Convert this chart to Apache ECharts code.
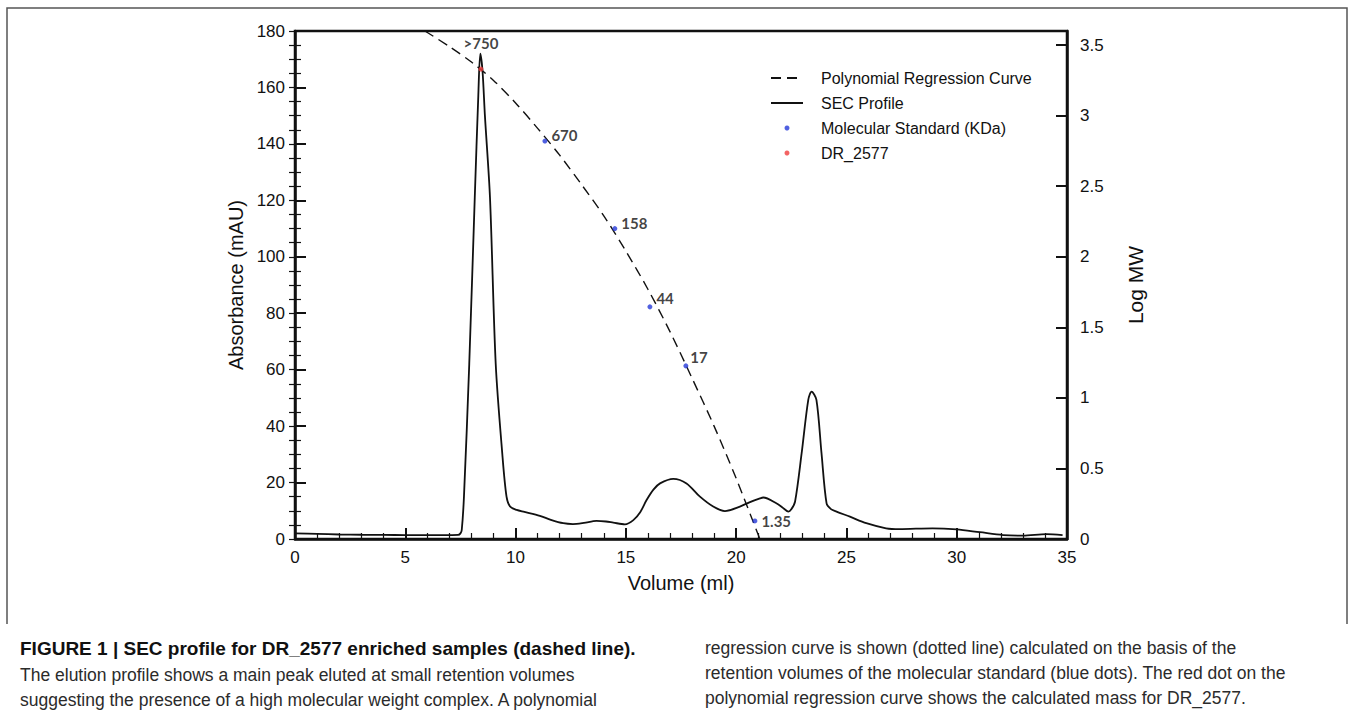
<!DOCTYPE html>
<html>
<head>
<meta charset="utf-8">
<title>SEC profile DR_2577</title>
<script src="https://cdn.jsdelivr.net/npm/echarts/dist/echarts.min.js"></script>
<style>
  html, body { margin: 0; padding: 0; background: #fff; }
  #chart { width: 1355px; height: 710px; }
</style>
</head>
<body>
<div id="chart"></div>
<script>
// SEC profile (absorbance, left axis)
const secVolume = [0, 1, 2, 3, 4, 5, 6, 7, 7.4, 7.5, 7.56, 7.66, 7.9, 8.15, 8.31, 8.4, 8.5, 8.61, 8.84, 9.1, 9.4, 9.59, 9.75, 10.05, 10.4, 11.1, 11.6, 12.16, 12.6, 13.1, 13.67, 14.1, 14.43, 14.96, 15.34, 15.65, 15.94, 16.25, 16.55, 17.15, 17.75, 18.36, 18.96, 19.49, 20.17, 20.6, 21.08, 21.23, 21.84, 22.1, 22.37, 22.5, 22.67, 22.97, 23.27, 23.42, 23.64, 23.87, 24.1, 24.3, 24.55, 25.16, 25.9, 26.8, 27.4, 28.9, 30.0, 31.05, 32.1, 33.0, 34.07, 34.8];
const secAbsorbance = [2.0, 1.8, 1.6, 1.5, 1.45, 1.4, 1.4, 1.4, 1.45, 2.0, 3.2, 15, 62, 121, 157, 172, 166, 150, 121, 62, 30, 15, 11.5, 10.3, 9.6, 8.2, 6.8, 5.6, 5.3, 5.7, 6.4, 6.2, 5.8, 5.2, 6.7, 9.5, 13.8, 17.5, 19.7, 21.3, 19.7, 15, 11.5, 9.9, 11.5, 13, 14.4, 14.7, 12.6, 11.2, 9.7, 10.5, 13.2, 30.4, 49.3, 52.2, 49.3, 30.4, 12.6, 10.6, 9.7, 7.9, 5.6, 3.8, 3.5, 3.8, 3.4, 2.4, 1.4, 1.2, 1.7, 1.4];

// polynomial regression curve (log MW, right axis)
const regVolume = [5.89, 7, 8, 9, 10, 11, 12, 13, 14, 15, 16, 17, 18, 19, 20, 21, 21.08];
const regLogMW = [3.6, 3.49, 3.38, 3.25, 3.09, 2.91, 2.72, 2.51, 2.29, 2.04, 1.77, 1.47, 1.14, 0.8, 0.43, 0.03, 0.0];

// molecular standards
const stdVolume = [11.33, 14.5, 16.09, 17.72, 20.85];
const stdLogMW = [2.82, 2.2, 1.645, 1.227, 0.128];
const stdLabels = ["670", "158", "44", "17", "1.35"];

// DR_2577
const sampleVolume = [8.43];
const sampleLogMW = [3.33];
const sampleLabels = [">750"];

const xTicks = { min: 0, max: 35, interval: 5 };
const leftTicks = { min: 0, max: 180, interval: 20 };
const rightTicks = { min: 0, max: 3.6, interval: 0.5, minor: 0.1 };

const captionTitle = "FIGURE 1 | SEC profile for DR_2577 enriched samples (dashed line).";
const captionLeft = [
    "The elution profile shows a main peak eluted at small retention volumes",
    "suggesting the presence of a high molecular weight complex. A polynomial"
];
const captionRight = [
    "regression curve is shown (dotted line) calculated on the basis of the",
    "retention volumes of the molecular standard (blue dots). The red dot on the",
    "polynomial regression curve shows the calculated mass for DR_2577."
];

const stdLabelOffsets = [[0, -6], [0, -6], [0, -9], [-2, -9], [0, 0]];

const pairs = (xs, ys) => xs.map((x, i) => [x, ys[i]]);

const fontMain = "'Liberation Sans', Arial, Helvetica, sans-serif";
const fontPoint = "Lato, 'Open Sans', sans-serif";
const ink = "#111";

const majorTick = { show: true, inside: true, length: 11, lineStyle: { color: ink, width: 2 } };
const minorTickStyle = { length: 6, lineStyle: { color: ink, width: 1.2 } };
const hiddenSymbol = { color: "rgba(0,0,0,0)", borderColor: "rgba(0,0,0,0)", borderWidth: 0, opacity: 0 };

const chart = echarts.init(document.getElementById("chart"), null, { renderer: "svg" });

const option = {
    backgroundColor: "#fff",
    animation: false,
    grid: {
        left: 295, right: 288, top: 31, bottom: 171,
        show: true, borderColor: ink, borderWidth: 2.5,
        outerBoundsMode: "none"
    },
    legend: {
        orient: "vertical",
        left: 770,
        top: 68,
        padding: 0,
        itemWidth: 32,
        itemHeight: 5,
        itemGap: 5,
        textStyle: {
            fontFamily: fontMain, fontSize: 16, color: ink,
            lineHeight: 20, padding: [0, 0, 0, 13]
        },
        data: [
            { name: "Polynomial Regression Curve", itemStyle: hiddenSymbol },
            { name: "SEC Profile", itemStyle: hiddenSymbol },
            "Molecular Standard (KDa)",
            "DR_2577"
        ]
    },
    xAxis: {
        type: "value",
        min: xTicks.min, max: xTicks.max, interval: xTicks.interval,
        name: "Volume (ml)",
        nameLocation: "middle",
        nameGap: 34,
        nameTextStyle: { fontFamily: fontMain, fontSize: 20, color: ink },
        axisLine: { show: true, onZero: false, lineStyle: { color: ink, width: 2.5 } },
        axisTick: majorTick,
        minorTick: Object.assign({ show: true, splitNumber: 5 }, minorTickStyle),
        axisLabel: { fontFamily: fontMain, fontSize: 17, color: ink, margin: 10 },
        splitLine: { show: false }
    },
    yAxis: [
        {
            type: "value",
            position: "left",
            min: leftTicks.min, max: leftTicks.max, interval: leftTicks.interval,
            name: "Absorbance (mAU)",
            nameLocation: "middle",
            nameGap: 44,
            nameTextStyle: { fontFamily: fontMain, fontSize: 20, color: ink },
            axisLine: { show: true, onZero: false, lineStyle: { color: ink, width: 2.5 } },
            axisTick: majorTick,
            minorTick: Object.assign({ show: true, splitNumber: 4 }, minorTickStyle),
            axisLabel: { fontFamily: fontMain, fontSize: 17, color: ink, margin: 10 },
            splitLine: { show: false }
        },
        {
            type: "value",
            position: "right",
            min: rightTicks.min, max: rightTicks.max, interval: rightTicks.interval,
            name: "Log MW",
            nameLocation: "middle",
            nameRotate: 90,
            nameGap: 58,
            nameTextStyle: { fontFamily: fontMain, fontSize: 21, color: ink },
            axisLine: { show: true, onZero: false, lineStyle: { color: ink, width: 2.5 } },
            axisTick: majorTick,
            axisLabel: {
                fontFamily: fontMain, fontSize: 17, color: ink, margin: 13,
                formatter: v => (v > rightTicks.max - 0.05 ? "" : String(v))
            },
            splitLine: { show: false }
        },
        {
            // minor ticks of the Log MW axis (3.6 top is not a multiple of 0.5)
            type: "value",
            position: "right",
            min: rightTicks.min, max: rightTicks.max, interval: rightTicks.minor,
            axisLine: { show: false },
            axisTick: Object.assign({ show: true, inside: true }, minorTickStyle),
            axisLabel: { show: false },
            splitLine: { show: false }
        }
    ],
    series: [
        {
            name: "Polynomial Regression Curve",
            type: "line",
            yAxisIndex: 1,
            smooth: 0.3,
            symbol: "none",
            data: pairs(regVolume, regLogMW),
            lineStyle: { color: ink, width: 1.4, type: [10, 6] },
            itemStyle: { color: ink },
            z: 2
        },
        {
            name: "SEC Profile",
            type: "line",
            yAxisIndex: 0,
            smooth: 0.3,
            symbol: "none",
            data: pairs(secVolume, secAbsorbance),
            lineStyle: { color: ink, width: 1.8 },
            itemStyle: { color: ink },
            z: 3
        },
        {
            name: "Molecular Standard (KDa)",
            type: "scatter",
            yAxisIndex: 1,
            symbolSize: 5,
            itemStyle: { color: "#2438d8" },
            data: stdVolume.map((v, i) => ({
                value: [v, stdLogMW[i]],
                name: stdLabels[i],
                label: { offset: stdLabelOffsets[i] }
            })),
            label: {
                show: true,
                position: "right",
                distance: 4,
                formatter: p => p.name,
                fontFamily: fontPoint, fontWeight: "bold", fontSize: 15, color: ink
            },
            z: 5
        },
        {
            name: "DR_2577",
            type: "scatter",
            yAxisIndex: 1,
            symbolSize: 5,
            itemStyle: { color: "#f03c3c" },
            data: sampleVolume.map((v, i) => ({ value: [v, sampleLogMW[i]], name: sampleLabels[i] })),
            label: {
                show: true,
                position: "top",
                distance: 16,
                formatter: p => p.name,
                fontFamily: fontPoint, fontWeight: "bold", fontSize: 15, color: ink
            },
            z: 5
        }
    ],
    graphic: [
        {
            type: "polyline",
            shape: { points: [[7, 624], [7, 8], [1347, 8], [1347, 624]] },
            style: { stroke: "#555", lineWidth: 1.5, fill: null },
            silent: true
        },
        {
            type: "text", left: 20, top: 639,
            style: { text: captionTitle, font: "bold 19px " + fontMain, fill: "#111" }
        },
        ...captionLeft.map((t, i) => ({
            type: "text", left: 20, top: 666 + i * 25,
            style: { text: t, font: "17.5px " + fontMain, fill: "#2b2b2b" }
        })),
        ...captionRight.map((t, i) => ({
            type: "text", left: 705, top: 639 + i * 25,
            style: { text: t, font: "17.5px " + fontMain, fill: "#2b2b2b" }
        }))
    ]
};

chart.setOption(option);
</script>
</body>
</html>
